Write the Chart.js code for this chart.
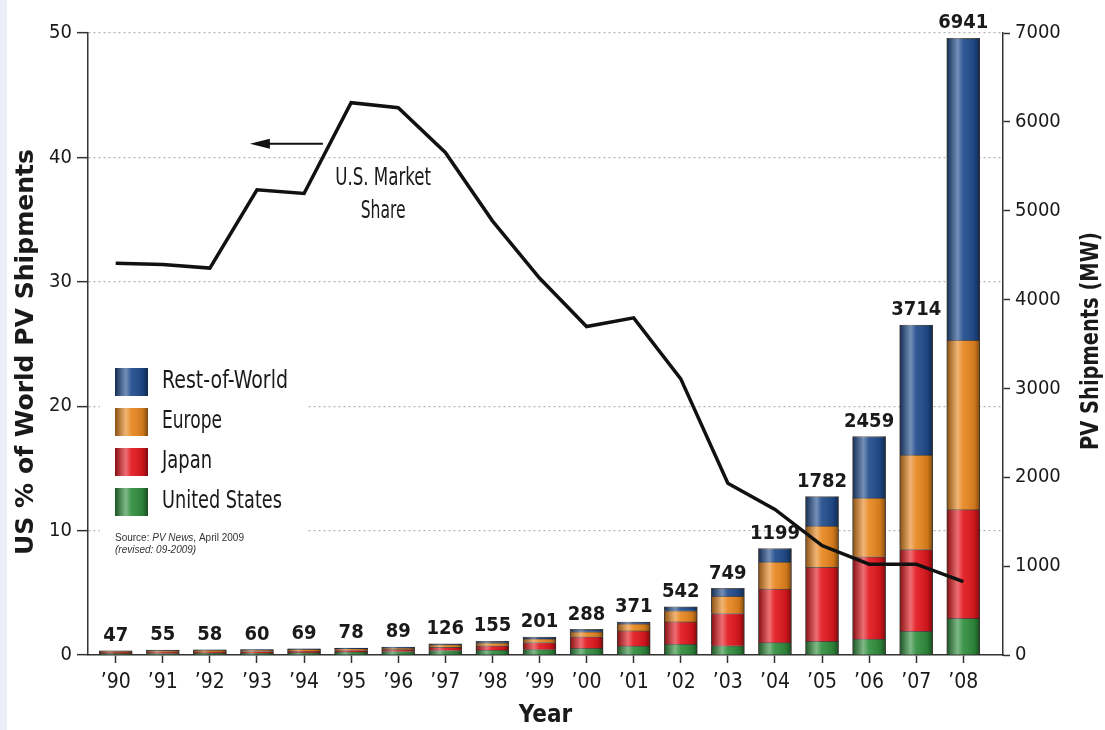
<!DOCTYPE html>
<html>
<head>
<meta charset="utf-8">
<script src="https://cdn.jsdelivr.net/npm/chart.js@4.4.1/dist/chart.umd.min.js"></script>
<style>
  html, body { margin: 0; padding: 0; background: #eeeefb; }
  canvas { display: block; }
</style>
</head>
<body>
<canvas id="pv-chart" width="1105" height="730"></canvas>
<script>
// Year labels along the bottom axis
const years = ['\u201990', '\u201991', '\u201992', '\u201993', '\u201994', '\u201995', '\u201996',
    '\u201997', '\u201998', '\u201999', '\u201900', '\u201901', '\u201902', '\u201903',
    '\u201904', '\u201905', '\u201906', '\u201907', '\u201908'];

// PV shipments by region (MW), stacked bottom to top
const unitedStates = [15, 17, 18, 22, 26, 35, 39, 51, 54, 61, 75, 100, 121, 103, 139, 153, 179, 266, 412];
const japan        = [17, 20, 19, 17, 17, 16, 21, 35, 49, 80, 129, 171, 251, 364, 602, 833, 927, 920, 1224];
const europe       = [10, 13, 16, 17, 21, 20, 19, 30, 34, 40, 57, 80, 125, 193, 306, 464, 660, 1063, 1906];
const restOfWorld  = [5, 5, 5, 4, 5, 7, 10, 10, 18, 20, 27, 20, 45, 89, 152, 332, 693, 1465, 3399];

// Totals printed above the bars
const totals = [47, 55, 58, 60, 69, 78, 89, 126, 155, 201, 288, 371, 542, 749, 1199, 1782, 2459, 3714, 6941];

// US share of world shipments (%)
const usShare = [31.5, 31.4, 31.1, 37.4, 37.1, 44.4, 44.0, 40.4, 34.9, 30.3, 26.4, 27.1, 22.2, 13.8, 11.7, 8.8, 7.3, 7.3, 5.9];

const leftTicks = [0, 10, 20, 30, 40, 50];
const rightTicks = [0, 1000, 2000, 3000, 4000, 5000, 6000, 7000];

const COLORS = {
    row: '#1f4b8c',
    europe: '#e8861e',
    japan: '#e2161d',
    us: '#2f8d3c'
};

const NARROW = "'Liberation Sans Narrow', 'DejaVu Sans Condensed', sans-serif";

/**
 * Draw text squeezed horizontally to a given width (the source uses a condensed face)
 */
function fitText(ctx, text, x, y, width, font, rotate) {
    ctx.save();
    ctx.font = font;
    ctx.textAlign = 'center';
    ctx.textBaseline = 'middle';
    ctx.fillStyle = '#1a1a1a';
    const natural = ctx.measureText(text).width;
    ctx.translate(x, y);
    if (rotate) ctx.rotate(rotate);
    ctx.scale(width / natural, 1);
    ctx.fillText(text, 0, 0);
    ctx.restore();
}

function cylinderGradient(ctx, left, width) {
    const g = ctx.createLinearGradient(left, 0, left + width, 0);
    g.addColorStop(0, 'rgba(0,0,0,0.40)');
    g.addColorStop(0.33, 'rgba(255,255,255,0.38)');
    g.addColorStop(0.5, 'rgba(255,255,255,0.08)');
    g.addColorStop(0.85, 'rgba(0,0,0,0.12)');
    g.addColorStop(1, 'rgba(0,0,0,0.45)');
    return g;
}

// Background: lavender strip on the left, white page
const backgroundPlugin = {
    id: 'background',
    beforeDraw(chart) {
        const ctx = chart.ctx;
        ctx.save();
        ctx.fillStyle = '#ffffff';
        ctx.fillRect(0, 0, chart.width, chart.height);
        ctx.fillStyle = '#eeeefb';
        ctx.fillRect(0, 0, 7, chart.height);
        ctx.restore();
    },
    beforeDatasetsDraw(chart) {
        // legend sits on a white patch that hides the dotted grid
        const ctx = chart.ctx;
        ctx.save();
        ctx.fillStyle = '#ffffff';
        ctx.fillRect(100, 358, 208, 204);
        ctx.restore();
    }
};

// Shaded, tube-like look on each bar
const cylinderPlugin = {
    id: 'cylinder',
    afterDatasetDraw(chart, args) {
        const meta = args.meta;
        if (meta.type !== 'bar') return;
        const ctx = chart.ctx;
        ctx.save();
        meta.data.forEach(bar => {
            const p = bar.getProps(['x', 'y', 'base', 'width'], true);
            const left = p.x - p.width / 2;
            ctx.fillStyle = cylinderGradient(ctx, left, p.width);
            ctx.fillRect(left, Math.min(p.y, p.base), p.width, Math.abs(p.base - p.y));
        });
        ctx.restore();
    }
};

// Totals, legend, titles and the market share note
const labelsPlugin = {
    id: 'labels',
    afterDraw(chart) {
        const ctx = chart.ctx;
        const xs = chart.scales.x;
        const yl = chart.scales.y;
        const yr = chart.scales.y1;

        ctx.save();
        ctx.font = "bold 20px 'DejaVu Sans Condensed', sans-serif";
        ctx.fillStyle = '#1a1a1a';
        ctx.textAlign = 'center';
        ctx.textBaseline = 'bottom';
        totals.forEach((t, i) => {
            ctx.fillText(String(t), xs.getPixelForValue(i), yr.getPixelForValue(t) - 5);
        });
        ctx.restore();

        // legend
        const items = [
            ['Rest-of-World', COLORS.row, 126],
            ['Europe', COLORS.europe, 60],
            ['Japan', COLORS.japan, 50],
            ['United States', COLORS.us, 120]
        ];
        items.forEach((item, k) => {
            const cy = 382 + k * 40;
            ctx.save();
            ctx.fillStyle = item[1];
            ctx.fillRect(115, cy - 14, 33, 28);
            ctx.fillStyle = cylinderGradient(ctx, 115, 33);
            ctx.fillRect(115, cy - 14, 33, 28);
            ctx.restore();
            const w = item[2];
            fitText(ctx, item[0], 162 + w / 2, cy, w, '24px ' + NARROW);
        });

        ctx.save();
        ctx.fillStyle = '#333';
        ctx.textAlign = 'left';
        ctx.textBaseline = 'middle';
        ctx.font = "10px 'Liberation Sans', Arial, sans-serif";
        ctx.fillText('Source: ', 115, 538);
        let sx = 115 + ctx.measureText('Source: ').width;
        ctx.font = "italic 10px 'Liberation Sans', Arial, sans-serif";
        ctx.fillText('PV News', sx, 538);
        sx += ctx.measureText('PV News').width;
        ctx.font = "10px 'Liberation Sans', Arial, sans-serif";
        ctx.fillText(', April 2009', sx, 538);
        ctx.font = "italic 10px 'Liberation Sans', Arial, sans-serif";
        ctx.fillText('(revised: 09-2009)', 115, 550);
        ctx.restore();

        // axis titles
        fitText(ctx, 'US % of World PV Shipments', 27, 352, 406, 'bold 24px ' + NARROW, -Math.PI / 2);
        fitText(ctx, 'PV Shipments (MW)', 1092, 341, 218, 'bold 24px ' + NARROW, -Math.PI / 2);

        // market share note with arrow pointing to the left axis
        fitText(ctx, 'U.S. Market', xs.getPixelForValue(5.68), yl.getPixelForValue(38.3), 96, '24px ' + NARROW);
        fitText(ctx, 'Share', xs.getPixelForValue(5.68), yl.getPixelForValue(35.6), 45, '24px ' + NARROW);

        const ay = yl.getPixelForValue(41.1);
        const ax1 = xs.getPixelForValue(4.4);
        const ax2 = xs.getPixelForValue(2.85);
        ctx.save();
        ctx.strokeStyle = '#111';
        ctx.fillStyle = '#111';
        ctx.lineWidth = 2;
        ctx.beginPath();
        ctx.moveTo(ax1, ay);
        ctx.lineTo(ax2 + 12, ay);
        ctx.stroke();
        ctx.beginPath();
        ctx.moveTo(ax2, ay);
        ctx.lineTo(ax2 + 20, ay - 5);
        ctx.lineTo(ax2 + 20, ay + 5);
        ctx.closePath();
        ctx.fill();
        ctx.restore();
    }
};

function barSet(label, values, color) {
    return {
        type: 'bar',
        label: label,
        data: values.map((v, i) => ({ x: i, y: v })),
        backgroundColor: color,
        borderColor: 'rgba(30,20,15,0.75)',
        borderWidth: 1,
        barThickness: 33,
        yAxisID: 'y1',
        order: 1
    };
}

const ctx = document.getElementById('pv-chart');

const pvChart = new Chart(ctx, {
    data: {
        datasets: [
            {
                type: 'line',
                label: 'U.S. Market Share',
                data: usShare.map((v, i) => ({ x: i, y: v })),
                borderColor: '#111111',
                borderWidth: 3.5,
                borderJoinStyle: 'miter',
                pointRadius: 0,
                tension: 0,
                yAxisID: 'y',
                order: 0
            },
            barSet('United States', unitedStates, COLORS.us),
            barSet('Japan', japan, COLORS.japan),
            barSet('Europe', europe, COLORS.europe),
            barSet('Rest-of-World', restOfWorld, COLORS.row)
        ]
    },
    options: {
        responsive: false,
        animation: false,
        layout: {
            padding: { top: 33, left: 0, right: 0, bottom: 0 }
        },
        scales: {
            x: {
                type: 'linear',
                position: 'bottom',
                stacked: true,
                offset: false,
                min: -0.588,
                max: 18.843,
                afterBuildTicks: axis => {
                    axis.ticks = years.map((_, i) => ({ value: i }));
                },
                afterFit: axis => { axis.height = 75; },
                ticks: {
                    autoSkip: false,
                    maxRotation: 0,
                    padding: 7,
                    color: '#1a1a1a',
                    font: { family: NARROW, size: 21 },
                    callback: value => years[value]
                },
                grid: {
                    offset: false,
                    drawOnChartArea: false,
                    tickLength: 8,
                    tickColor: '#333',
                    tickWidth: 1.5
                },
                border: { color: '#333', width: 1.5 },
                title: {
                    display: true,
                    text: 'Year',
                    color: '#1a1a1a',
                    font: { family: NARROW, size: 24, weight: 'bold' },
                    padding: { top: 0, bottom: 0 }
                }
            },
            y: {
                position: 'left',
                min: 0,
                max: 50,
                afterBuildTicks: axis => {
                    axis.ticks = leftTicks.map(v => ({ value: v }));
                },
                afterFit: axis => { axis.width = 88; },
                ticks: {
                    padding: 5,
                    color: '#1a1a1a',
                    font: { family: NARROW, size: 20 }
                },
                grid: {
                    color: '#b5b5b5',
                    lineWidth: 1.3,
                    tickLength: 11,
                    tickColor: '#333',
                    tickWidth: 1.5,
                    tickBorderDash: []
                },
                border: { color: '#333', width: 1.5, dash: [2, 3] }
            },
            y1: {
                position: 'right',
                stacked: true,
                min: 0,
                max: 7000,
                afterBuildTicks: axis => {
                    axis.ticks = rightTicks.map(v => ({ value: v }));
                },
                afterFit: axis => { axis.width = 102; },
                ticks: {
                    padding: 5,
                    color: '#1a1a1a',
                    font: { family: NARROW, size: 20 },
                    callback: value => String(value)
                },
                grid: {
                    drawOnChartArea: false,
                    tickLength: 7,
                    tickColor: '#333',
                    tickWidth: 1.5
                },
                border: { color: '#333', width: 1.5 }
            }
        },
        plugins: {
            legend: { display: false },
            tooltip: { enabled: false }
        }
    },
    plugins: [backgroundPlugin, cylinderPlugin, labelsPlugin]
});
</script>
</body>
</html>
